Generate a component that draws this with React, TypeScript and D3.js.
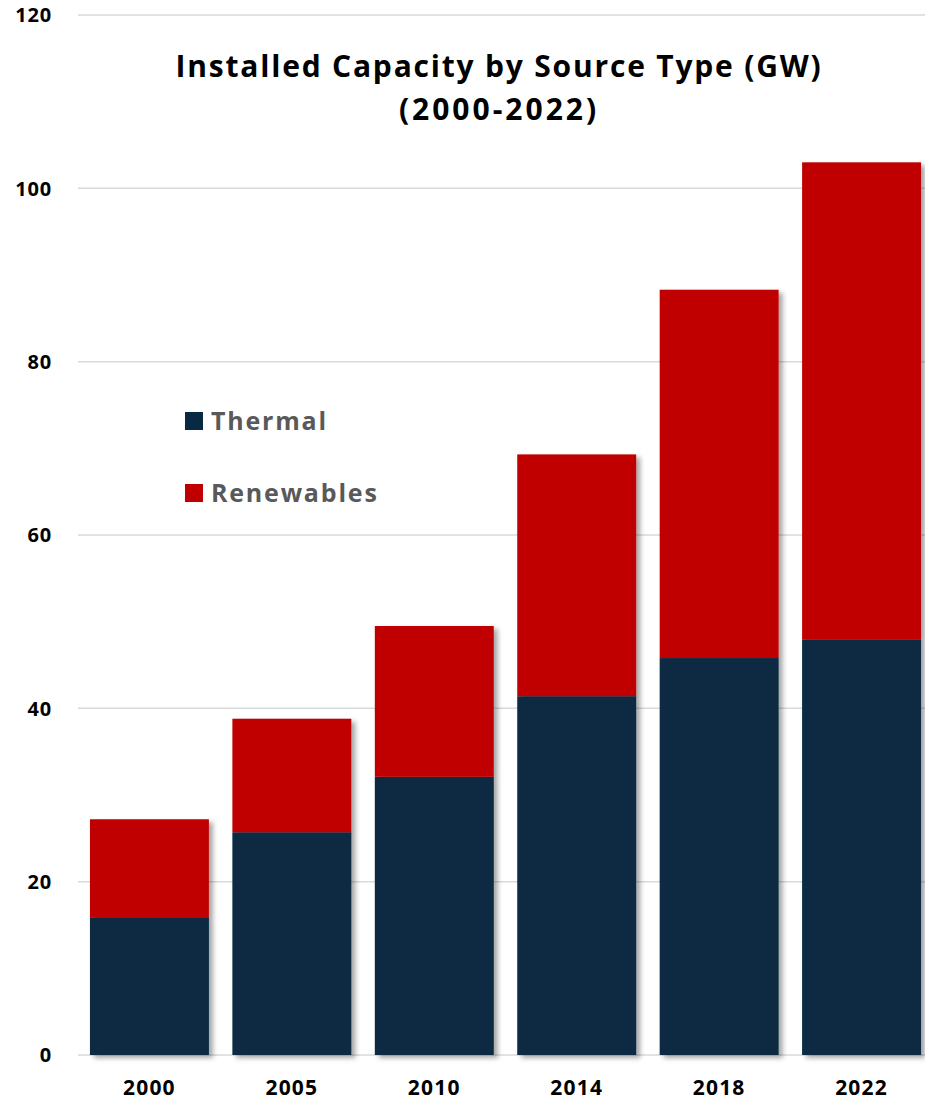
import React from "react";
import * as d3 from "d3";

const years = ["2000", "2005", "2010", "2014", "2018", "2022"];
const thermal = [15.9, 25.7, 32.1, 41.4, 45.8, 47.9];
const renewables = [11.3, 13.1, 17.4, 27.9, 42.5, 55.1];
const yTicks = [0, 20, 40, 60, 80, 100, 120];
const seriesNames = ["Thermal", "Renewables"];
const colors = ["#072942", "#C00000"];

const W = 925;
const H = 1101;
const FONT = "'Open Sans', sans-serif";

export default function App() {
  const y = d3.scaleLinear().domain([0, 120]).range([1055, 15]);
  const x = d3
    .scaleBand<string>()
    .domain(years)
    .range([78, 933])
    .paddingInner(0.165)
    .paddingOuter(0.084);

  const rows = years.map((yr, i) => ({ year: yr, Thermal: thermal[i], Renewables: renewables[i] }));
  const stack = d3.stack<any>().keys(seriesNames)(rows);

  return (
    <svg width={W} height={H} style={{ position: "absolute", left: 0, top: 0, background: "#fff" }}>
      <defs>
        <filter id="shadow" x="-10%" y="-10%" width="130%" height="130%">
          <feDropShadow dx="4" dy="3" stdDeviation="2.5" floodColor="#000" floodOpacity="0.35" />
        </filter>
      </defs>
      {yTicks.map((t) => (
        <g key={t}>
          <line x1={78} x2={W} y1={y(t)} y2={y(t)} stroke="#d9d9d9" strokeWidth={1.5} />
          <text
            x={52}
            y={y(t)}
            dy="0.36em"
            textAnchor="end"
            fontFamily={FONT}
            fontWeight={700}
            fontSize={20}
            letterSpacing={0.8}
            fill="#000"
          >
            {t}
          </text>
        </g>
      ))}
      {years.map((yr, i) => (
        <g key={yr} filter="url(#shadow)">
          {stack.map((s, si) => (
            <rect
              key={si}
              x={x(yr)}
              width={x.bandwidth()}
              y={y(s[i][1])}
              height={y(s[i][0]) - y(s[i][1])}
              fill={colors[si]}
            />
          ))}
        </g>
      ))}
      {years.map((yr) => (
        <text
          key={yr}
          x={(x(yr) as number) + x.bandwidth() / 2}
          y={1095}
          textAnchor="middle"
          fontFamily={FONT}
          fontWeight={700}
          fontSize={21}
          letterSpacing={1.2}
          fill="#000"
        >
          {yr}
        </text>
      ))}
      <text x={499} y={77} textAnchor="middle" fontFamily={FONT} fontWeight={700} fontSize={30} letterSpacing={1.8} fill="#000">
        Installed Capacity by Source Type (GW)
      </text>
      <text x={499} y={120} textAnchor="middle" fontFamily={FONT} fontWeight={700} fontSize={30} letterSpacing={3} fill="#000">
        (2000-2022)
      </text>
      {seriesNames.map((n, i) => (
        <g key={n}>
          <rect x={185} y={412 + i * 72} width={18} height={18} fill={colors[i]} />
          <text
            x={211}
            y={421 + i * 72}
            dy="0.36em"
            fontFamily={FONT}
            fontWeight={700}
            fontSize={25}
            letterSpacing={1.8}
            fill="#595959"
          >
            {n}
          </text>
        </g>
      ))}
    </svg>
  );
}
